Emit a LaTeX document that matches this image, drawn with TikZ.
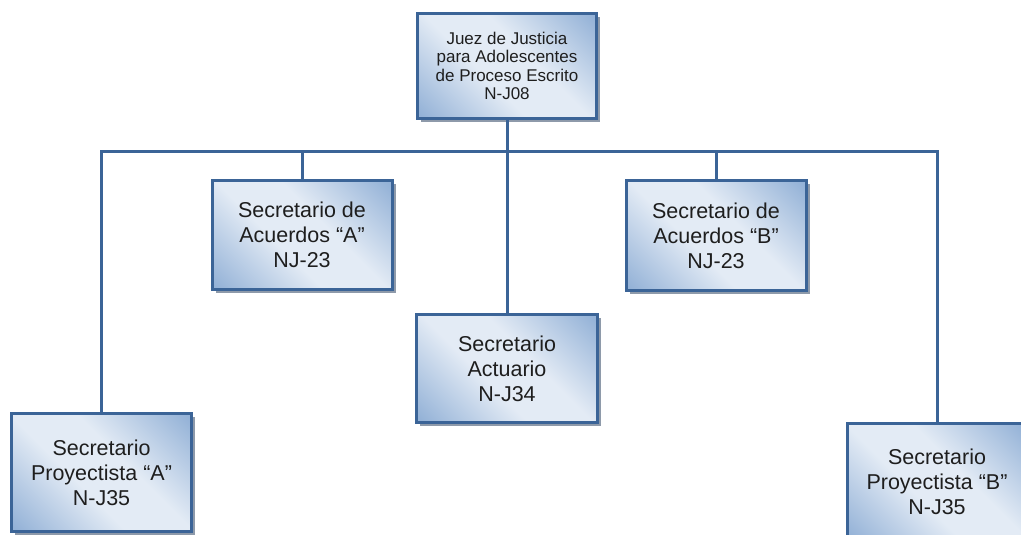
\documentclass[tikz,border=0pt]{standalone}
\usepackage{fontspec}
\setmainfont{Liberation Sans}
\usetikzlibrary{shadows}
\definecolor{boxdark}{HTML}{94B2D7}
\definecolor{boxlight}{HTML}{E3EBF5}
\definecolor{boxborder}{HTML}{3B6497}
\definecolor{shadowgray}{HTML}{8E9AAA}
\definecolor{txt}{HTML}{1E1E1E}
\pgfdeclarehorizontalshading{boxshade}{100bp}{color(0bp)=(boxdark); color(16bp)=(boxdark); color(42bp)=(boxlight); color(58bp)=(boxlight); color(84bp)=(boxdark); color(100bp)=(boxdark)}
\begin{document}
\begin{tikzpicture}[x=1pt,y=-1pt,
  orgbox/.style={rectangle, draw=boxborder, line width=3pt, shading=boxshade, shading angle=45,
    align=center, text=txt, inner sep=2pt,
    drop shadow={shadow xshift=3.5pt, shadow yshift=-3.5pt, fill=shadowgray, opacity=1},
    font=\fontsize{21.5}{25}\selectfont},
  topbox/.style={orgbox, font=\fontsize{17}{18.6}\selectfont},
  conn/.style={draw=boxborder, line width=3pt, line join=miter, line cap=rect}]
\useasboundingbox (0,0) rectangle (1021,535);
\clip (0,0) rectangle (1021,535);
\fill[white] (0,0) rectangle (1021,535);
\coordinate (bus) at (0,151);
\node[topbox, minimum width=179pt, minimum height=105pt] (top) at (507,66)
  {Juez de Justicia\\para Adolescentes\\de Proceso Escrito\\N-J08};
\node[orgbox, minimum width=180pt, minimum height=109pt] (accA) at (302,235)
  {Secretario de\\Acuerdos “A”\\NJ-23};
\node[orgbox, minimum width=181pt, minimum height=108pt] (act) at (507,368.5)
  {Secretario\\Actuario\\N-J34};
\node[orgbox, minimum width=180pt, minimum height=110pt] (accB) at (716,235.5)
  {Secretario de\\Acuerdos “B”\\NJ-23};
\node[orgbox, minimum width=180pt, minimum height=118pt] (proyA) at (101.5,472.5)
  {Secretario\\Proyectista “A”\\N-J35};
\node[orgbox, minimum width=179pt, minimum height=118pt] (proyB) at (937,482)
  {Secretario\\Proyectista “B”\\N-J35};
\path[conn] (top.south) -- (top.south |- bus);
\path[conn] (proyA.north) -- (proyA.north |- bus) -- (proyB.north |- bus) -- (proyB.north);
\path[conn] (accA.north |- bus) -- (accA.north);
\path[conn] (act.north |- bus) -- (act.north);
\path[conn] (accB.north |- bus) -- (accB.north);
\end{tikzpicture}
\end{document}
